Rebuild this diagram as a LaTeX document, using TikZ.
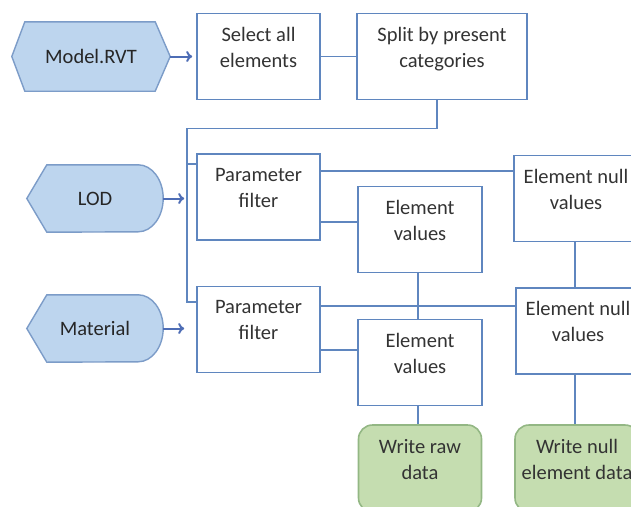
\documentclass[tikz,border=0pt]{standalone}
\usepackage{fontspec}
\setmainfont{Carlito}
\usetikzlibrary{positioning, arrows.meta, backgrounds}
\definecolor{box_line}{HTML}{5F86BF}
\definecolor{src_fill}{HTML}{BDD5EE}
\definecolor{src_line}{HTML}{7C9CC8}
\definecolor{out_fill}{HTML}{C5DDB0}
\definecolor{out_line}{HTML}{93B784}
\definecolor{feed_arrow}{HTML}{4E6DB5}
\definecolor{txt_grey}{HTML}{333333}

\begin{document}
\begin{tikzpicture}[
    x=1pt, y=-1pt,
    font=\fontsize{20.5}{26}\selectfont, text=txt_grey,
    step_box/.style={draw=box_line, line width=1.6pt, fill=white, align=center,
        minimum width=123pt, minimum height=86pt, inner sep=2pt, text depth=19pt},
    out_box/.style={step_box, draw=out_line, fill=out_fill, rounded corners=14pt},
    src_text/.style={minimum width=136pt, minimum height=67pt, inner sep=0pt, text=black!85},
    src_shape/.style={draw=src_line, fill=src_fill, line width=1.4pt},
    link/.style={draw=box_line, line width=1.6pt},
    feed/.style={draw=feed_arrow, line width=2pt, -{To[length=6pt,width=11pt]}}
]

% --- Cornice ---
\useasboundingbox (0,0) rectangle (631,506);
\clip (0,0) rectangle (631,506);

% --- Sorgenti ---
\node[src_text, minimum width=158pt, minimum height=69pt] (model) at (91,56.5) {Model.RVT};
\node[src_text] (lod) at (95,198.5) {LOD};
\node[src_text] (mat) at (95,328.5) {Material};

\begin{scope}[on background layer]
    % Esagono del modello
    \draw[src_shape] (model.west) -- ([xshift=13pt]model.north west)
        -- ([xshift=-15pt]model.north east) -- (model.east)
        -- ([xshift=-15pt]model.south east) -- ([xshift=13pt]model.south west) -- cycle;
    % Forme dei parametri
    \foreach \src in {lod, mat} {
        \draw[src_shape] (\src.west) -- ([xshift=20pt]\src.north west)
            -- ([xshift=-25pt]\src.north east)
            arc[start angle=90, end angle=-90, x radius=25pt, y radius=33.5pt]
            -- ([xshift=20pt]\src.south west) -- cycle;
    }
\end{scope}

% --- Passi ---
\node[step_box] (sel) at (258.5,56.5) {Select all\\elements};
\node[step_box, minimum width=170pt] (split) at (442,56.5) {Split by present\\categories};

\node[step_box] (pf1) at (258.5,197) {Parameter\\filter};
\node[step_box] (pf2) at (258.5,329.5) {Parameter\\filter};

\node[step_box, minimum width=124pt] (ev1) at (420,229.5) {Element\\values};
\node[step_box, minimum width=124pt] (ev2) at (420,362.5) {Element\\values};

\node[step_box, minimum width=124pt] (en1) at (576,198.5) {Element null\\values};
\node[step_box, minimum width=124pt] (en2) at (578,331) {Element null\\values};

% --- Uscite ---
\node[out_box, minimum height=87pt] (wraw) at (420,468.5) {Write raw\\data};
\node[out_box, minimum width=124pt, minimum height=87pt] (wnull) at (577,468.5) {Write null\\element data};

% --- Frecce in ingresso ---
\draw[feed, shorten >=4pt] (model.east) -- (sel.west);
\draw[feed, shorten >=12pt] (lod.east) -- (lod.east -| pf1.west);
\draw[feed, shorten >=12pt] (mat.east) -- (mat.east -| pf2.west);

% --- Collegamenti ---
\draw[link] (sel.east) -- (split.west);
\coordinate (bus) at ([xshift=-9pt,yshift=-11pt]pf1.north west);
\draw[link] ([xshift=-5pt]split.south) -- ++(0,28) -| (bus) -- ([yshift=-11pt]pf1.north west);
\draw[link] (bus) |- ([yshift=-16pt]pf2.north west);

\draw[link] ([yshift=-18pt]pf1.north east) -- ([yshift=-18pt]pf1.north east -| en1.west);
\draw[link] ([yshift=-25pt]pf1.east) -- ([yshift=-25pt]pf1.east -| ev1.west);
\draw[link] ([xshift=-2pt]ev1.south) -- ([xshift=-2pt]ev2.north);

\draw[link] ([yshift=-20pt]pf2.north east) -- ([yshift=-20pt]pf2.north east -| en2.west);
\draw[link] ([yshift=-20.5pt]pf2.east) -- ([yshift=-20.5pt]pf2.east -| ev2.west);
\draw[link] ([xshift=-2pt]ev2.south) -- ([xshift=-2pt]wraw.north);

\draw[link] ([xshift=-1pt]en1.south) -- ([xshift=-1pt]en1.south |- en2.north);
\draw[link] ([xshift=-3pt]en2.south) -- ([xshift=-3pt]en2.south |- wnull.north);

\end{tikzpicture}
\end{document}
